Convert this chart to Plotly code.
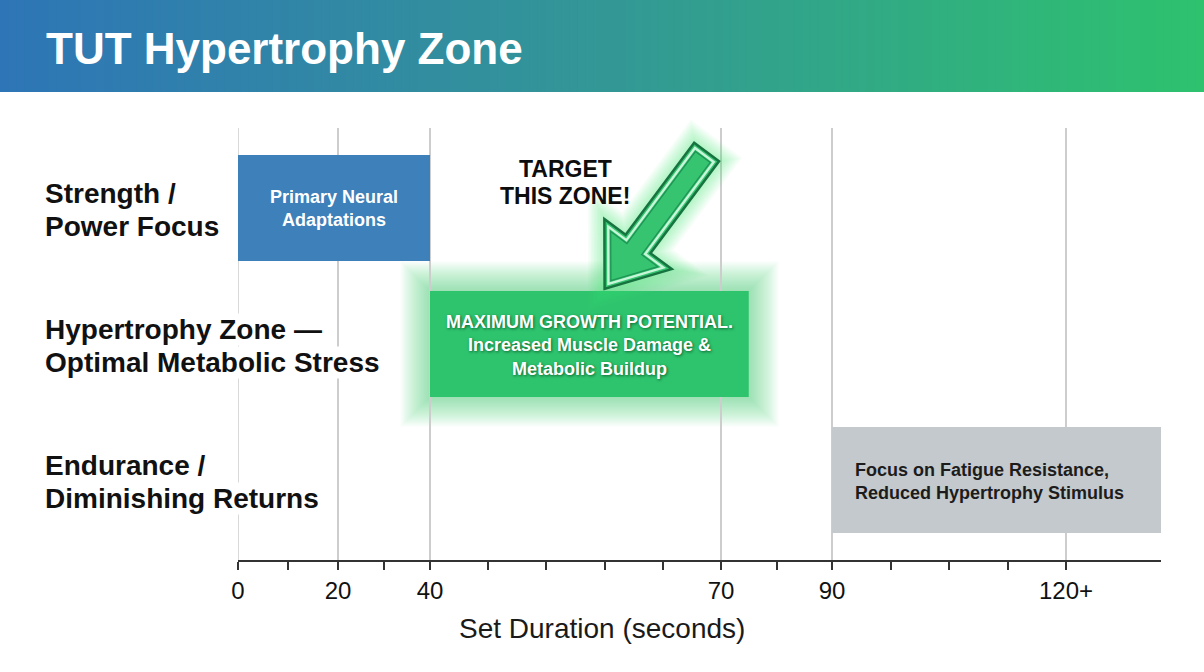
import numpy as np
import plotly.graph_objects as go

# ---------------- data ----------------
TITLE = "TUT Hypertrophy Zone"
ROWS = ["Strength /<br>Power Focus",
        "Hypertrophy Zone —<br>Optimal Metabolic Stress",
        "Endurance /<br>Diminishing Returns"]
ZONE_START = [0, 40, 90]
ZONE_END = [40, 75, 132]
ZONE_TEXT = ["Primary Neural<br>Adaptations",
             "MAXIMUM GROWTH POTENTIAL.<br>Increased Muscle Damage &<br>Metabolic Buildup",
             "Focus on Fatigue Resistance,<br>Reduced Hypertrophy Stimulus"]
MAJOR_TICKS = [0, 20, 40, 70, 90, 120]
MAJOR_LABELS = ["0", "20", "40", "70", "90", "120+"]
MINOR_TICKS = [10, 30, 46, 52, 58, 64, 80, 97.5, 105, 112.5]
X_TITLE = "Set Duration (seconds)"
CALLOUT = ["TARGET", "THIS ZONE!"]
ARROW_TIP_SEC = 58
X_MAX = 132

# ---------------- styles / scale ----------------
ZONE_COLORS = ["#3d80ba", "#2ec46e", "#c4c9cd"]
ZONE_FONT_COLORS = ["white", "white", "#1c1c1c"]
FONT = "Liberation Sans, Arial, Helvetica, sans-serif"

# non-linear (piecewise) time scale: seconds -> display units
SCALE_SEC = [0, 20, 40, 70, 90, 120, 132]
SCALE_UNITS = [0, 100, 192, 483, 594, 828, 923]


def disp(v):
    return np.interp(np.asarray(v, dtype=float), SCALE_SEC, SCALE_UNITS)


FW, FH = 1204, 672
ML, MR, MT, MB = 238, 43, 128, 112
PW, PH = FW - ML - MR, FH - MT - MB
Y_RANGE = [2.588, -0.588]
UNIT_PX = PH / (Y_RANGE[0] - Y_RANGE[1])


def px_x(v):  # display unit -> pixel
    return ML + v / float(disp(X_MAX)) * PW


def px_row(i):
    return MT + (i - Y_RANGE[1]) * UNIT_PX


def pax(px):
    return (px - ML) / PW


def pay(py):
    return 1 - (py - MT) / PH


fig = go.Figure()

starts = disp(ZONE_START)
ends = disp(ZONE_END)
fig.add_trace(go.Bar(
    orientation="h", y=ROWS, x=ends - starts, base=starts,
    marker=dict(color=ZONE_COLORS, line=dict(width=0)),
    width=0.78, hoverinfo="skip", showlegend=False))

shapes = []
annotations = []

# gridline at the left edge (plotly drops the one on the range boundary)
shapes.append(dict(type="line", xref="x", yref="paper", x0=float(disp(0)), x1=float(disp(0)),
                   y0=0, y1=1, line=dict(color="#cdcdcd", width=1.5), layer="below"))

# header gradient band
stops = [(0.0, (46, 117, 183)), (0.5, (51, 151, 150)), (1.0, (46, 194, 110))]


def grad(t):
    for (t0, c0), (t1, c1) in zip(stops[:-1], stops[1:]):
        if t <= t1:
            f = (t - t0) / (t1 - t0)
            return "rgb(%d,%d,%d)" % tuple(int(round(a + (b - a) * f)) for a, b in zip(c0, c1))
    return "rgb(%d,%d,%d)" % stops[-1][1]


NS = 150
for k in range(NS):
    x0 = FW * k / NS
    x1 = FW * (k + 1) / NS + 1
    shapes.append(dict(type="rect", xref="paper", yref="paper",
                       x0=pax(x0), x1=pax(x1), y0=pay(0), y1=pay(92),
                       fillcolor=grad((k + 0.5) / NS), line=dict(width=0), layer="below"))

annotations.append(dict(text="<b>%s</b>" % TITLE, xref="paper", yref="paper",
                        x=pax(44), y=pay(49), xanchor="left", yanchor="middle",
                        showarrow=False, font=dict(family=FONT, size=44, color="white")))

# soft glow around hypertrophy bar
gi = 1
gx0, gx1 = px_x(starts[gi]), px_x(ends[gi])
gyc = px_row(gi)
gh = 0.78 * UNIT_PX / 2
for d in np.arange(1, 31, 1):
    shapes.append(dict(type="rect", xref="paper", yref="paper",
                       x0=pax(gx0 - d), x1=pax(gx1 + d), y0=pay(gyc + gh + d), y1=pay(gyc - gh - d),
                       fillcolor="rgba(70,230,125,0.024)", line=dict(width=0), layer="between"))

# arrow
tip = np.array([px_x(disp(ARROW_TIP_SEC)), gyc - gh - 2])
tail = tip + np.array([102, -137])


def arrow_pts(tail, tip, shw, hhw, hl):
    dvec = tip - tail
    u = dvec / np.linalg.norm(dvec)
    n = np.array([-u[1], u[0]])
    hb = tip - u * hl
    return [tail + n * shw, hb + n * shw, hb + n * hhw, tip,
            hb - n * hhw, hb - n * shw, tail - n * shw]


def inset(tail, tip, shw, hhw, hl, d):
    dvec = tip - tail
    u = dvec / np.linalg.norm(dvec)
    th = np.arctan(hhw / hl)
    tip2 = tip - u * d / np.sin(th)
    tail2 = tail + u * d
    hl2 = hl - d - d / np.sin(th)
    return arrow_pts(tail2, tip2, shw - d, hl2 * np.tan(th), hl2)


def path_of(pts):
    return "M " + " L ".join("%.5f,%.5f" % (pax(p[0]), pay(p[1])) for p in pts) + " Z"


SHW, HHW, HL = 15.5, 42, 56
for d in np.arange(1.5, 18, 1.5):
    shapes.append(dict(type="path", xref="paper", yref="paper",
                       path=path_of(inset(tail, tip, SHW, HHW, HL, -d)),
                       fillcolor="rgba(70,230,125,0.045)", line=dict(width=0), layer="above"))
shapes.append(dict(type="path", xref="paper", yref="paper",
                   path=path_of(arrow_pts(tail, tip, SHW, HHW, HL)),
                   fillcolor="#36c471", line=dict(width=2.5, color="#17733f"), layer="above"))
shapes.append(dict(type="path", xref="paper", yref="paper",
                   path=path_of(inset(tail, tip, SHW, HHW, HL, 3.8)),
                   fillcolor="rgba(0,0,0,0)", line=dict(width=2.4, color="#c8f6d8"), layer="above"))
shapes.append(dict(type="path", xref="paper", yref="paper",
                   path=path_of(inset(tail, tip, SHW, HHW, HL, 6.3)),
                   fillcolor="rgba(0,0,0,0)", line=dict(width=1.3, color="#1f9555"), layer="above"))

# callout text
for j, line in enumerate(CALLOUT):
    annotations.append(dict(text="<b>%s</b>" % line, xref="paper", yref="paper",
                            x=pax(565), y=pay(169 + 27 * j), xanchor="center", yanchor="middle",
                            showarrow=False,
                            font=dict(family=FONT, size=23, color="#0d0d0d",
                                      shadow="0px 0px 3px rgba(255,255,255,0.9)")))

# zone text
for i, txt in enumerate(ZONE_TEXT):
    yc = px_row(i)
    if i == 2:
        x, xa, al = px_x(starts[i]) + 21, "left", "left"
    else:
        x, xa, al = (px_x(starts[i]) + px_x(ends[i])) / 2, "center", "center"
    shadow = "1px 1px 3px rgba(0,70,30,0.75)" if i == 1 else "none"
    annotations.append(dict(text="<b>%s</b>" % txt, xref="paper", yref="paper",
                            x=pax(x), y=pay(yc + 1), xanchor=xa, yanchor="middle", align=al,
                            showarrow=False,
                            font=dict(family=FONT, size=18, color=ZONE_FONT_COLORS[i], shadow=shadow)))

# row labels (one annotation per line, white background)
for i, lab in enumerate(ROWS):
    lines = lab.split("<br>")
    yc = px_row(i)
    for j, line in enumerate(lines):
        off = (j - (len(lines) - 1) / 2) * 33
        annotations.append(dict(text="<b>%s</b>" % line, xref="paper", yref="paper",
                                x=pax(44), y=pay(yc + off + 2), xanchor="left", yanchor="middle",
                                showarrow=False, bgcolor="white", borderpad=0,
                                font=dict(family=FONT, size=28, color="#111111")))

# x-axis title
annotations.append(dict(text=X_TITLE, xref="paper", yref="paper",
                        x=pax(602), y=pay(628), xanchor="center", yanchor="middle",
                        showarrow=False, font=dict(family=FONT, size=28, color="#1a1a1a")))

fig.update_layout(
    width=FW, height=FH,
    margin=dict(l=ML, r=MR, t=MT, b=MB, pad=0),
    paper_bgcolor="white", plot_bgcolor="white",
    font=dict(family=FONT),
    barmode="overlay",
    xaxis=dict(range=[0, float(disp(X_MAX))], tickmode="array",
               tickvals=disp(MAJOR_TICKS).tolist(), ticktext=MAJOR_LABELS,
               showgrid=True, gridcolor="#cdcdcd", gridwidth=1.5,
               showline=True, linecolor="#333333", linewidth=2,
               ticks="outside", ticklen=8, tickwidth=1.5, tickcolor="#333333",
               tickfont=dict(family=FONT, size=24, color="#111111"),
               minor=dict(tickmode="array", tickvals=disp(MINOR_TICKS).tolist(),
                          ticks="outside", ticklen=8, tickwidth=1.5, tickcolor="#333333",
                          showgrid=False),
               zeroline=False, fixedrange=True),
    yaxis=dict(type="category", categoryorder="array", categoryarray=ROWS,
               range=Y_RANGE, showticklabels=False, showgrid=False,
               zeroline=False, showline=False, ticks="", fixedrange=True),
    shapes=shapes, annotations=annotations,
)

fig.write_html("out.html")
